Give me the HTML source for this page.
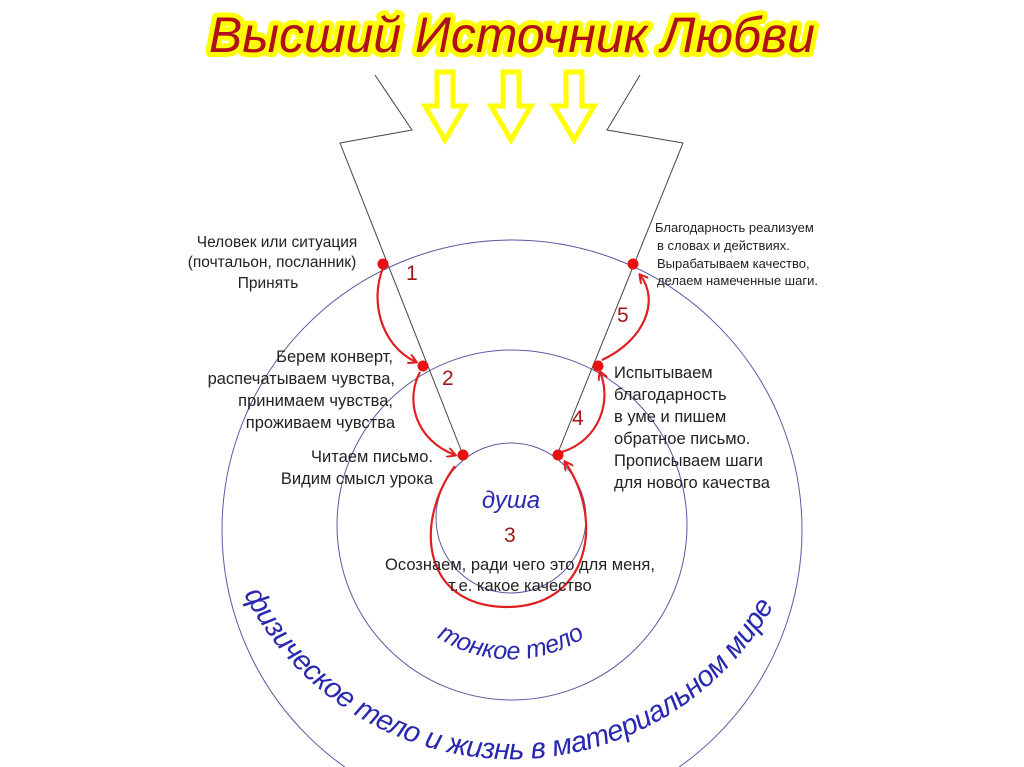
<!DOCTYPE html>
<html><head><meta charset="utf-8"><style>
html,body{margin:0;padding:0;background:#fff;overflow:hidden;width:1024px;height:767px;}
svg{display:block;}
text{font-family:"Liberation Sans","DejaVu Sans",sans-serif;}
</style></head><body>
<svg width="1024" height="767" viewBox="0 0 1024 767" xmlns="http://www.w3.org/2000/svg">
<defs>
<marker id="ah" markerWidth="10" markerHeight="10" refX="8" refY="5" orient="auto" markerUnits="userSpaceOnUse">
<path d="M0,0 L9,5 L0,10" fill="none" stroke="#e02020" stroke-width="2"/>
</marker>
<path id="outerArc" d="M 244 594 A 300 300 0 0 0 780 594"/>
<path id="midArc" d="M 420 624 A 135 135 0 0 0 602 624"/>
</defs>
<text x="512" y="52" text-anchor="middle" font-family="'Liberation Serif',serif" font-style="italic" font-size="50" fill="#ffff00" stroke="#ffff00" stroke-width="10" stroke-linejoin="round">Высший Источник Любви</text>
<text x="512" y="52" text-anchor="middle" font-family="'Liberation Serif',serif" font-style="italic" font-size="50" fill="#b0101a">Высший Источник Любви</text>
<g fill="#fff" stroke="#ffff00" stroke-width="5" stroke-linejoin="miter">
<path d="M437,72 L453,72 L453,106 L465,106 L445,140 L425,106 L437,106 Z"/>
<path d="M503,72 L519,72 L519,106 L531,106 L511,140 L491,106 L503,106 Z"/>
<path d="M566,72 L582,72 L582,106 L594,106 L574,140 L554,106 L566,106 Z"/>
</g>
<g fill="none" stroke="#5a5aa0" stroke-width="1">
<circle cx="512" cy="530" r="290"/>
<circle cx="512" cy="525" r="175"/>
<circle cx="511" cy="518" r="75"/>
</g>
<g fill="none" stroke="#444" stroke-width="1">
<polyline points="375,75 412,130 340,143 463,455"/>
<polyline points="640,75 607,130 683,143 557,455"/>
</g>
<g fill="none" stroke="#e02020" stroke-width="2.2" marker-end="url(#ah)">
<path d="M383,268 C370,300 380,345 416,362"/>
<path d="M420,372 C405,400 415,440 455,455"/>
<path d="M455,466 C415,520 420,605 505,607 C590,608 605,520 565,462"/>
<path d="M562,452 C600,440 612,400 600,372"/>
<path d="M602,360 C645,340 660,300 640,275"/>
</g>
<g fill="#e81010">
<circle cx="383" cy="264" r="5.5"/>
<circle cx="423" cy="366" r="5.5"/>
<circle cx="463" cy="455" r="5.5"/>
<circle cx="633" cy="264" r="5.5"/>
<circle cx="598" cy="366" r="5.5"/>
<circle cx="558" cy="455" r="5.5"/>
</g>
<g fill="#a01818" font-size="21">
<text x="406" y="280">1</text>
<text x="442" y="385">2</text>
<text x="504" y="542">3</text>
<text x="572" y="425">4</text>
<text x="617" y="322">5</text>
</g>
<g font-size="15.5" fill="#222" text-anchor="middle">
<text x="277" y="247">Человек или ситуация</text>
<text x="272" y="267">(почтальон, посланник)</text>
<text x="268" y="288">Принять</text>
</g>
<g font-size="16.5" fill="#222" text-anchor="end">
<text x="393" y="362">Берем конверт,</text>
<text x="395" y="384">распечатываем чувства,</text>
<text x="393" y="406">принимаем чувства,</text>
<text x="395" y="428">проживаем чувства</text>
<text x="433" y="462">Читаем письмо.</text>
<text x="433" y="484">Видим смысл урока</text>
</g>
<g font-size="13" fill="#222">
<text x="655" y="232">Благодарность реализуем</text>
<text x="657" y="250">в словах и действиях.</text>
<text x="657" y="268">Вырабатываем качество,</text>
<text x="657" y="285">делаем намеченные шаги.</text>
</g>
<g font-size="16.5" fill="#222">
<text x="614" y="378">Испытываем</text>
<text x="614" y="400">благодарность</text>
<text x="614" y="422">в уме и пишем</text>
<text x="614" y="444">обратное письмо.</text>
<text x="614" y="466">Прописываем шаги</text>
<text x="614" y="488">для нового качества</text>
</g>
<text x="511" y="508" text-anchor="middle" font-size="24" font-style="italic" fill="#2828b0">душа</text>
<g font-size="16.5" fill="#222" text-anchor="middle">
<text x="520" y="570">Осознаем, ради чего это для меня,</text>
<text x="520" y="591">т.е. какое качество</text>
</g>
<text font-size="25" font-style="italic" fill="#2828b0"><textPath href="#midArc" startOffset="50%" text-anchor="middle">тонкое тело</textPath></text>
<text font-size="29" font-style="italic" fill="#2828b0"><textPath href="#outerArc" startOffset="0" textLength="650" lengthAdjust="spacing">физическое тело и жизнь в материальном мире</textPath></text>
</svg>
</body></html>
